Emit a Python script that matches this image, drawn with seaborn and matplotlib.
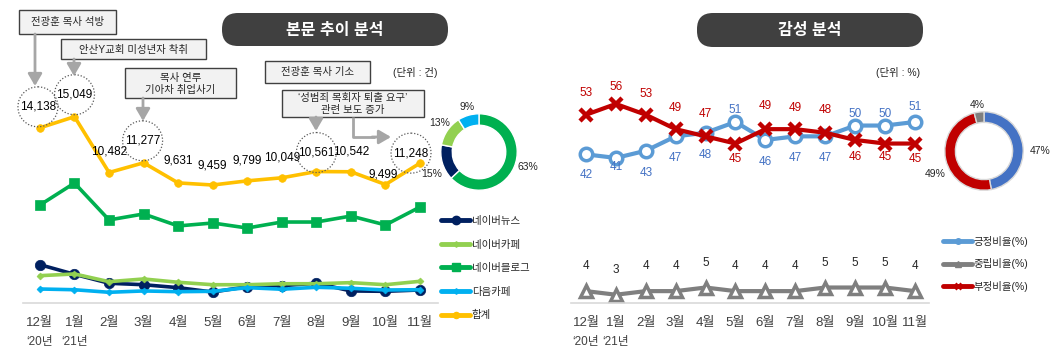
import numpy as np
import pandas as pd
import matplotlib
matplotlib.use('Agg')
import matplotlib.pyplot as plt
import seaborn as sns
from matplotlib.patches import FancyBboxPatch, Rectangle, Circle
from matplotlib.lines import Line2D

# ---- data ----
months = ['12월', '1월', '2월', '3월', '4월', '5월', '6월', '7월', '8월', '9월', '10월', '11월']
years = ["‘20년", "‘21년"]

naver_news = [2940, 2150, 1420, 1300, 1060, 700, 1140, 1220, 1420, 790, 760, 870]
naver_cafe = [2040, 2180, 1550, 1770, 1500, 1300, 1300, 1380, 1380, 1470, 1300, 1580]
naver_blog = [7820, 9620, 6600, 7090, 6110, 6350, 5940, 6430, 6430, 6920, 6190, 7660]
daum_cafe = [950, 890, 680, 790, 730, 760, 1060, 930, 1090, 1010, 870, 890]
total = [14138, 15049, 10482, 11277, 9631, 9459, 9799, 10049, 10561, 10542, 9499, 11248]

share_names = ['네이버블로그', '네이버뉴스', '네이버카페', '다음카페']
share_vals = [63, 15, 13, 9]

positive = [42, 41, 43, 47, 48, 51, 46, 47, 47, 50, 50, 51]
neutral = [4, 3, 4, 4, 5, 4, 4, 4, 5, 5, 5, 4]
negative = [53, 56, 53, 49, 47, 45, 49, 49, 48, 46, 45, 45]
senti_names = ['긍정비율(%)', '부정비율(%)', '중립비율(%)']
senti_vals = [47, 49, 4]

events = ['전광훈 목사 석방', '안산Y교회 미성년자 착취', '목사 연루\n기아차 취업사기',
          '전광훈 목사 기소', '‘성범죄 목회자 퇴출 요구’\n관련 보도 증가']
circled = [0, 1, 3, 8, 11]

df_left = pd.DataFrame({'idx': range(12), '네이버뉴스': naver_news, '네이버카페': naver_cafe,
                        '네이버블로그': naver_blog, '다음카페': daum_cafe, '합계': total})
df_right = pd.DataFrame({'idx': range(12), '긍정비율(%)': positive, '중립비율(%)': neutral,
                         '부정비율(%)': negative})

# ---- style ----
sns.set_style('white')
plt.rcParams['font.family'] = ['Liberation Sans', 'Noto Sans CJK KR', 'DejaVu Sans']

W, H = 1061, 357
fig = plt.figure(figsize=(W / 100, H / 100), dpi=100)


def px_rect(x0, y0, x1, y1):
    return [x0 / W, 1 - y1 / H, (x1 - x0) / W, (y1 - y0) / H]


def style_axis(ax):
    for s in ['top', 'right', 'left']:
        ax.spines[s].set_visible(False)
    ax.spines['bottom'].set_color('#d9d9d9')
    ax.spines['bottom'].set_linewidth(1.2)
    ax.set_yticks([])
    ax.set_xticks(range(12))
    ax.set_xticklabels(months, fontsize=9.5, color='#404040')
    ax.tick_params(axis='x', length=0, pad=10)
    ax.set_xlabel('')
    ax.set_ylabel('')
    for i, y in enumerate(years):
        ax.annotate(y, xy=(i, 0), xycoords=('data', 'axes fraction'), xytext=(0, -39),
                    textcoords='offset pixels', ha='center', va='center',
                    fontsize=8.5, color='#404040')


# ---- left chart ----
axl = fig.add_axes(px_rect(23, 70, 438, 303))
left_styles = {
    '네이버블로그': dict(color='#00b050', marker='s', markersize=6.5),
    '네이버뉴스': dict(color='#002060', marker='o', markersize=7.5),
    '네이버카페': dict(color='#92d050', marker='D', markersize=3.5),
    '다음카페': dict(color='#00b0f0', marker='D', markersize=3.5),
    '합계': dict(color='#ffc000', marker='o', markersize=5.5),
}
for name, st in left_styles.items():
    sns.lineplot(data=df_left, x='idx', y=name, ax=axl, linewidth=2.6,
                 markeredgecolor=st['color'], markeredgewidth=0.5, **st)
axl.set_xlim(-0.49, 11.52)
axl.set_ylim(-196, 18870)
style_axis(axl)

tot_dy = [21, 22, 21, 22, 22, 20, 20, 20, 19, 20, 10, 10]
tot_dx = [-2, 0, 0, -1, 0, 0, 0, 0, 0, 0, -2, -9]
for i, v in enumerate(total):
    axl.annotate(f'{v:,}', xy=(i, v), xytext=(tot_dx[i], tot_dy[i]), textcoords='offset pixels',
                 ha='center', va='center', fontsize=8.5, color='black')

leg_order = ['네이버뉴스', '네이버카페', '네이버블로그', '다음카페', '합계']
handles = [Line2D([], [], color=left_styles[n]['color'], lw=3.5, marker=left_styles[n]['marker'],
                  markersize=left_styles[n]['markersize'] * 0.8) for n in leg_order]
fig.legend(handles, leg_order, loc='upper left', bbox_to_anchor=(441 / W, 1 - 216 / H),
           frameon=False, fontsize=7.5, handlelength=2.8, handletextpad=0.15,
           labelspacing=1.3, borderaxespad=0, borderpad=0)

# left donut
axd1 = fig.add_axes(px_rect(440, 113, 518, 191))
axd1.pie(share_vals, colors=['#00b050', '#002060', '#92d050', '#00b0f0'], startangle=90,
         counterclock=False, radius=1, wedgeprops=dict(width=0.3, edgecolor='white', linewidth=1))
axd1.set_xlim(-1.02, 1.02)
axd1.set_ylim(-1.02, 1.02)
for (x, y), v in zip([(528, 167), (432, 174), (440, 123), (467, 107)], share_vals):
    fig.text(x / W, 1 - y / H, f'{v}%', ha='center', va='center', fontsize=7.5, color='#262626')

# ---- right chart ----
axr = fig.add_axes(px_rect(571, 73, 929, 303))
sns.lineplot(data=df_right, x='idx', y='긍정비율(%)', ax=axr, color='#5b9bd5', linewidth=3,
             marker='o', markersize=9, markerfacecolor='white', markeredgecolor='#5b9bd5',
             markeredgewidth=2.5)
sns.lineplot(data=df_right, x='idx', y='중립비율(%)', ax=axr, color='#7f7f7f', linewidth=3,
             marker='^', markersize=8, markerfacecolor='white', markeredgecolor='#7f7f7f',
             markeredgewidth=2.5)
sns.lineplot(data=df_right, x='idx', y='부정비율(%)', ax=axr, color='#c00000', linewidth=3,
             marker='x', markersize=9, markeredgecolor='#c00000', markeredgewidth=3.2)
axr.set_xlim(-0.5, 11.47)
axr.set_ylim(0.7, 64.6)
style_axis(axr)

pos_dy = [-21, -9, -22, -22, -22, 12, -22, -22, -22, 12, 12, 15]
neg_dy = [22, 17, 21, 21, 22, -15, 23, 21, 23, -17, -13, -15]
for i in range(12):
    axr.annotate(str(positive[i]), xy=(i, positive[i]), xytext=(0, pos_dy[i]),
                 textcoords='offset pixels', ha='center', va='center', fontsize=8.5, color='#4472c4')
    axr.annotate(str(negative[i]), xy=(i, negative[i]), xytext=(0, neg_dy[i]),
                 textcoords='offset pixels', ha='center', va='center', fontsize=8.5, color='#c00000')
    axr.annotate(str(neutral[i]), xy=(i, neutral[i]), xytext=(0, 25),
                 textcoords='offset pixels', ha='center', va='center', fontsize=8.5, color='#262626')

r_handles = [Line2D([], [], color='#5b9bd5', lw=3.5, marker='o', markersize=4),
             Line2D([], [], color='#7f7f7f', lw=3.5, marker='^', markersize=5),
             Line2D([], [], color='#c00000', lw=3.5, marker='x', markersize=4, markeredgewidth=2)]
fig.legend(r_handles, ['긍정비율(%)', '중립비율(%)', '부정비율(%)'], loc='upper left',
           bbox_to_anchor=(943 / W, 1 - 236 / H), frameon=False, fontsize=7.5, handlelength=2.8,
           handletextpad=0.15, labelspacing=1.1, borderaxespad=0, borderpad=0)

# right donut
axd2 = fig.add_axes(px_rect(944, 111, 1024, 191))
axd2.pie(senti_vals, colors=['#4472c4', '#c00000', '#7f7f7f'], startangle=90, counterclock=False,
         radius=1, wedgeprops=dict(width=0.27, edgecolor='#d9d9d9', linewidth=1))
axd2.set_xlim(-1.02, 1.02)
axd2.set_ylim(-1.02, 1.02)
for (x, y), v in zip([(1040, 151), (935, 174), (977, 105)], senti_vals):
    fig.text(x / W, 1 - y / H, f'{v}%', ha='center', va='center', fontsize=7.5, color='#262626')

# ---- overlay: titles, event boxes, arrows, circles ----
ov = fig.add_axes([0, 0, 1, 1])
ov.set_xlim(0, W)
ov.set_ylim(H, 0)
ov.axis('off')
ov.patch.set_alpha(0)

for (x0, y0, x1, y1), txt in [((222, 13, 448, 46), '본문 추이 분석'), ((697, 13, 923, 47), '감성 분석')]:
    ov.add_patch(FancyBboxPatch((x0, y0), x1 - x0, y1 - y0,
                                boxstyle='round,pad=0,rounding_size=16', fc='#404040', ec='none'))
    ov.text((x0 + x1) / 2, (y0 + y1) / 2 + 1, txt, ha='center', va='center', color='white',
            fontsize=11.5, fontweight='bold')

ov.text(415, 72, '(단위 : 건)', ha='center', va='center', fontsize=7.5, color='#262626')
ov.text(898, 73, '(단위 : %)', ha='center', va='center', fontsize=7.5, color='#262626')

boxes = [(19, 10, 116, 34), (61, 39, 206, 59), (125, 68, 236, 98), (265, 61, 370, 83), (282, 90, 424, 117)]
for (x0, y0, x1, y1), txt in zip(boxes, events):
    ov.add_patch(Rectangle((x0, y0), x1 - x0, y1 - y0, fc='#f2f2f2', ec='#404040', lw=1))
    ov.text((x0 + x1) / 2, (y0 + y1) / 2 + 0.5, txt, ha='center', va='center', fontsize=7.5,
            color='#262626', linespacing=1.25)

arrow_kw = dict(arrowstyle='-|>,head_length=0.6,head_width=0.35', color='#a6a6a6', lw=2,
                shrinkA=0, shrinkB=0, mutation_scale=12)
for (x, ya, yb) in [(35, 34, 86), (74, 59, 76), (143, 98, 121), (316, 117, 131)]:
    ov.annotate('', xy=(x, yb), xytext=(x, ya), arrowprops=arrow_kw)
ov.plot([353, 353, 375], [117, 137, 137], color='#a6a6a6', lw=2, solid_capstyle='butt')
ov.annotate('', xy=(391, 137), xytext=(372, 137), arrowprops=arrow_kw)

for i in circled:
    px, py = axl.transData.transform((i, total[i]))
    cx = px + tot_dx[i]
    cy = H - (py + tot_dy[i])
    ov.add_patch(Circle((cx, cy), 20, fill=False, ec='#595959', lw=0.9, ls=(0, (1, 1.5))))

fig.savefig('out.png', dpi=100)
